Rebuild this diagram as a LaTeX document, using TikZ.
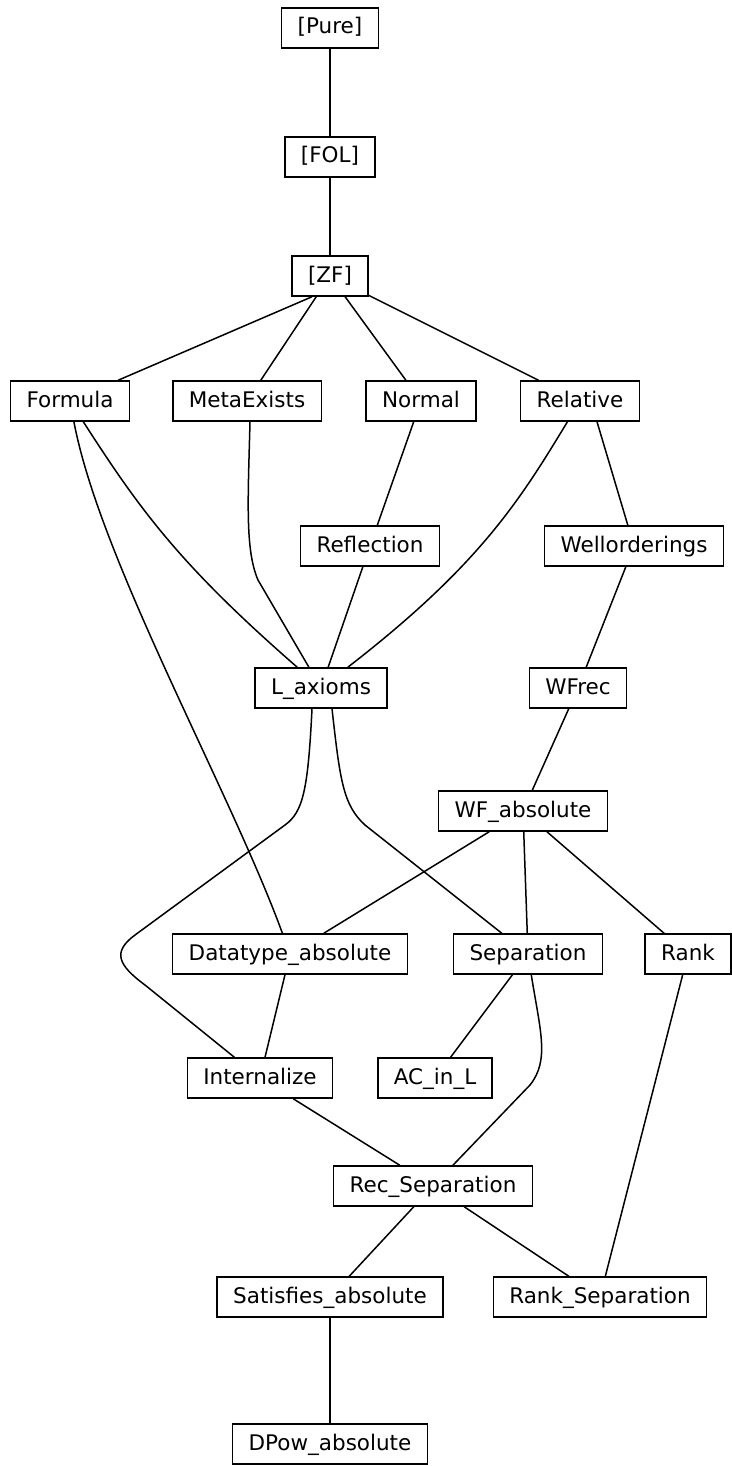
\documentclass[tikz,border=0pt]{standalone}
\usepackage{fontspec}
\setmainfont{DejaVu Sans}
\usepackage{tikz}

\begin{document}
\begin{tikzpicture}
	[x=1pt, y=-1pt, line width=1.5pt,
	 thy/.style={draw, rectangle, inner xsep=16pt, inner ysep=0pt,
	   minimum height=40pt, text height=16pt, text depth=4pt,
	   font=\fontsize{21.5}{26}\selectfont}]
   \useasboundingbox (0,0) rectangle (731,1466);
   \node[thy] (Pure)       at (330,28)   {[Pure]};
   \node[thy] (FOL)        at (330,157)  {[FOL]};
   \node[thy] (ZF)         at (330,276)  {[ZF]};
   \node[thy] (Formula)    at (70,401)   {Formula};
   \node[thy] (MetaExists) at (247,401)  {MetaExists};
   \node[thy] (Normal)     at (421,401)  {Normal};
   \node[thy] (Relative)   at (580,401)  {Relative};
   \node[thy] (Reflection) at (370,546)  {Reflection};
   \node[thy] (Wellord)    at (634,546)  {Wellorderings};
   \node[thy] (L_axioms)   at (321,688)  {L\_axioms};
   \node[thy] (WFrec)      at (578,688)  {WFrec};
   \node[thy] (WF_abs)     at (523,811)  {WF\_absolute};
   \node[thy] (Data_abs)   at (290,954)  {Datatype\_absolute};
   \node[thy] (Separation) at (528,954)  {Separation};
   \node[thy] (Rank)       at (688,954)  {Rank};
   \node[thy] (Internalize) at (260,1078) {Internalize};
   \node[thy] (AC_in_L)    at (435,1078) {AC\_in\_L};
   \node[thy] (Rec_Sep)    at (433,1186) {Rec\_Separation};
   \node[thy] (Sat_abs)    at (330,1297) {Satisfies\_absolute};
   \node[thy] (Rank_Sep)   at (600,1297) {Rank\_Separation};
   \node[thy] (DPow_abs)   at (330,1444) {DPow\_absolute};
    \path[draw]
    (Pure) edge (FOL)
    (FOL) edge (ZF)
    ([xshift=-18pt]ZF.south) edge (Formula)
    (ZF) edge (MetaExists)
         edge (Normal)
         edge (Relative)
    (Normal) edge (Reflection)
    (Reflection) edge (L_axioms)
    ([xshift=17pt]Relative.south) edge (Wellord)
    (Wellord) edge (WFrec)
    (WFrec) edge (WF_abs)
    (WF_abs) edge (Data_abs)
             edge (Separation)
             edge (Rank)
    (Data_abs) edge (Internalize)
    (Separation) edge (AC_in_L)
    (Internalize) edge (Rec_Sep)
    (Rec_Sep) edge (Sat_abs)
              edge (Rank_Sep)
    (Rank) edge (Rank_Sep)
    (Sat_abs) edge (DPow_abs);
    % curved connectors
    \draw (Formula) .. controls (140,510) and (180,565) .. (L_axioms);
    \draw (Formula) .. controls (100,560) and (230,790) .. (Data_abs);
    \draw ([xshift=3pt]MetaExists.south) .. controls (248,500) and (245,550) .. (258,580)
          -- (L_axioms);
    \draw (Relative) .. controls (520,500) and (480,565) .. (L_axioms);
    \draw ([xshift=-9pt]L_axioms.south) .. controls (308,790) and (303,812) .. (285,825)
          -- (135,935) .. controls (112,952) and (118,965) .. (145,985) -- (Internalize);
    \draw ([xshift=11pt]L_axioms.south) .. controls (340,780) and (343,805) .. (365,825)
          -- (Separation);
    \draw (Separation) .. controls (540,1030) and (550,1060) .. (530,1085) -- (Rec_Sep);
\end{tikzpicture}
\end{document}
